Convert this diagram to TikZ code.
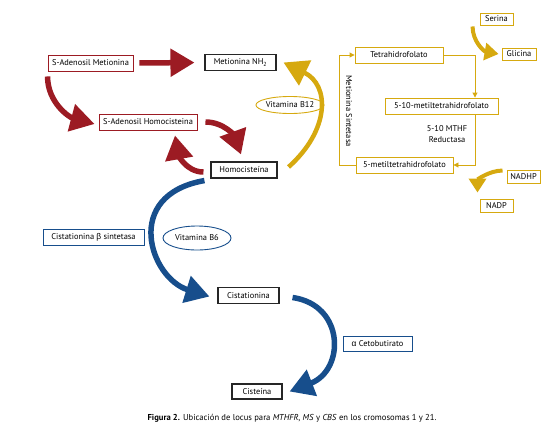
\documentclass[tikz,border=0pt]{standalone}
\usepackage{fontspec}
\setmainfont{PT Sans}
\newfontfamily\grkfont{Liberation Sans}
\usetikzlibrary{arrows.meta,shapes.geometric}
\definecolor{hcred}{HTML}{9C1B23}
\definecolor{hcyel}{HTML}{D6A90F}
\definecolor{hcblue}{HTML}{174E8C}
\tikzset{
	box/.style={draw, line width=0.9pt, inner xsep=2pt, inner ysep=1pt, minimum height=16pt, font=\fontsize{8.4}{10}\selectfont},
	redbox/.style={box, draw=hcred},
	blkbox/.style={box, draw=black!85, line width=1.1pt},
	yelbox/.style={box, draw=hcyel},
	bluebox/.style={box, draw=hcblue},
	vitamin/.style={ellipse, draw, line width=0.9pt, inner sep=0pt, font=\fontsize{8.4}{10}\selectfont},
	bigarrow/.style={line width=5.5pt, -{Triangle[length=24pt,width=27pt]}},
	smallarrow/.style={line width=4pt, -{Triangle[length=14pt,width=17pt]}},
	thinline/.style={draw=hcyel, line width=0.9pt},
	thinarrow/.style={thinline, -{Triangle[length=5pt,width=5pt]}},
}

\begin{document}
\begin{tikzpicture}[x=1pt, y=-1pt]
		%%%%% START %%%%%
		\useasboundingbox (0,0) rectangle (557,429);
		
		% methionine cycle
		\node[redbox, minimum width=85pt] (sam) at (90.5,63) {S-Adenosil Metionina};
		\node[blkbox, minimum width=71pt] (met) at (240.5,62.5) {Metionina NH\textsubscript{2}};
		\node[redbox, minimum width=98pt] (sah) at (148,122) {S-Adenosil Homocisteina};
		\node[blkbox, minimum width=66pt] (hcy) at (244,170) {Homocisteína};
		\node[vitamin, draw=hcyel, minimum width=65pt, minimum height=17pt] (b12) at (290,105) {Vitamina B12};
		
		\draw[bigarrow, hcred, shorten <=6pt, shorten >=10pt] (sam.east) -- (met.west);
		\draw[bigarrow, hcred] ([yshift=-5pt]sam.south west) to[out=-90, in=165] ([xshift=-4pt, yshift=-2pt]sah.west);
		\draw[bigarrow, hcred] ([xshift=8pt]sah.east) to[out=0, in=110] ([xshift=-3pt, yshift=7pt]hcy.north);
		\draw[bigarrow, hcred] ([xshift=-7pt, yshift=-2pt]hcy.west) to[out=180, in=-80] ([xshift=27pt, yshift=-5pt]sah.south);
		\draw[bigarrow, hcyel, line width=4.5pt] ([xshift=11pt, yshift=3pt]hcy.east) .. controls (330,130) and (330,85) .. ([xshift=7pt]met.east);
		
		% folate cycle
		\node[yelbox, minimum width=88pt] (thf) at (399,55) {Tetrahidrofolato};
		\node[yelbox, minimum width=113pt] (mthf) at (441.5,106) {5-10-metiltetrahidrofolato};
		\node[yelbox, minimum width=97pt] (metil) at (404.5,165) {5-metiltetrahidrofolato};
		\node[yelbox, minimum width=33pt, minimum height=12pt] (ser) at (496.5,19) {Serina};
		\node[yelbox, minimum width=34pt, minimum height=12pt] (gly) at (519,54) {Glicina};
		\node[yelbox, minimum width=33pt, minimum height=13pt] (nadhp) at (523.5,176.5) {NADHP};
		\node[yelbox, minimum width=33pt, minimum height=13pt] (nadp) at (496.5,205.5) {NADP};
		\node[font=\fontsize{8.4}{10}\selectfont, rotate=-90] (ms) at (349,111) {Metionina Sintetasa};
		\node[font=\fontsize{8.4}{11}\selectfont, align=center] (mthfr) at (447,134) {5-10 MTHF\\Reductasa};
		
		\coordinate (loopR) at (475,0);
		\coordinate (loopL) at (339,0);
		\draw[thinarrow] (thf.east) -| (loopR |- mthf.north);
		\draw[thinarrow] (loopR |- mthf.south) |- (metil.east);
		\draw[thinarrow] (metil.west) -| (loopL |- thf.west) -- (thf.west);
		
		\draw[smallarrow, hcyel] ([xshift=-7pt, yshift=-1pt]ser.south west) to[out=-90, in=170] ([xshift=-3pt]gly.west);
		\draw[smallarrow, hcyel] ([xshift=-4pt, yshift=-1pt]nadhp.north west) to[out=180, in=90] ([xshift=-19pt, yshift=6pt]nadp.north);
		
		% transsulfuration
		\node[bluebox, minimum width=101pt] (cbs) at (93.5,237.5) {Cistationina {\grkfont β} sintetasa};
		\node[vitamin, draw=hcblue, minimum width=68pt, minimum height=24pt] (b6) at (197,238) {Vitamina B6};
		\node[blkbox, minimum width=61pt] (cist) at (248.5,295.5) {Cistationina};
		\node[bluebox, minimum width=69pt, minimum height=15pt] (ceto) at (377.5,343.5) {{\grkfont α} Cetobutirato};
		\node[blkbox, minimum width=50pt, minimum height=15pt] (cys) at (257,391.5) {Cisteína};
		
		\draw[bigarrow, hcblue] ([xshift=-6pt, yshift=-2pt]hcy.south west) .. controls (122,195) and (150,278) .. ([xshift=-8pt, yshift=-1pt]cist.west);
		\draw[bigarrow, hcblue] ([xshift=13pt, yshift=-2pt]cist.east) .. controls (345,305) and (345,370) .. ([xshift=7pt]cys.east);
		
		\node[font=\fontsize{8.6}{10}\selectfont] (cap) at (292,418) {{\bfseries Figura 2.} Ubicación de locus para \textit{MTHFR}, \textit{MS} y \textit{CBS} en los cromosomas 1 y 21.};
		%%%%% END %%%%%
	\end{tikzpicture}
\end{document}
